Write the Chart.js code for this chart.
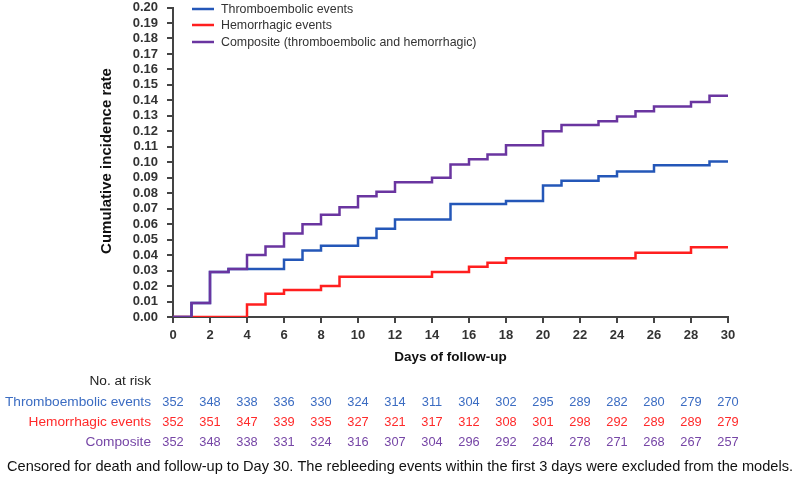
<!DOCTYPE html>
<html lang="en">
<head>
<meta charset="UTF-8">
<title>Cumulative incidence</title>
<script src="https://cdn.jsdelivr.net/npm/chart.js@4"></script>
<style>
  html, body { margin: 0; padding: 0; background: #fff; }
  #wrap { width: 800px; height: 488px; position: relative; }
</style>
</head>
<body>
<div id="wrap"><canvas id="canvas"></canvas></div>
<script>
// step curves: value holds from the given day onward
const thromboDays = [0, 1, 2, 3, 6, 7, 8, 10, 11, 12, 15, 18, 20, 21, 23, 24, 26, 29, 30];
const thromboRate = [0, 0.009, 0.029, 0.031, 0.037, 0.043, 0.046, 0.051, 0.057, 0.063, 0.073, 0.075, 0.085, 0.088, 0.091, 0.094, 0.098, 0.1005, 0.1005];

const hemoDays = [0, 4, 5, 6, 8, 9, 14, 16, 17, 18, 25, 28, 30];
const hemoRate = [0, 0.008, 0.015, 0.0175, 0.020, 0.026, 0.029, 0.0325, 0.035, 0.038, 0.0415, 0.045, 0.045];

const compDays = [0, 1, 2, 3, 4, 5, 6, 7, 8, 9, 10, 11, 12, 14, 15, 16, 17, 18, 20, 21, 23, 24, 25, 26, 28, 29, 30];
const compRate = [0, 0.009, 0.029, 0.031, 0.040, 0.0455, 0.054, 0.060, 0.066, 0.071, 0.078, 0.081, 0.087, 0.090, 0.0985, 0.102, 0.105, 0.111, 0.120, 0.124, 0.1265, 0.1295, 0.133, 0.136, 0.139, 0.143, 0.143];

// number at risk table
const riskDays = [0, 2, 4, 6, 8, 10, 12, 14, 16, 18, 20, 22, 24, 26, 28, 30];
const riskThrombo = [352, 348, 338, 336, 330, 324, 314, 311, 304, 302, 295, 289, 282, 280, 279, 270];
const riskHemo = [352, 351, 347, 339, 335, 327, 321, 317, 312, 308, 301, 298, 292, 289, 289, 279];
const riskComp = [352, 348, 338, 331, 324, 316, 307, 304, 296, 292, 284, 278, 271, 268, 267, 257];

const seriesNames = ['Thromboembolic events', 'Hemorrhagic events', 'Composite (thromboembolic and hemorrhagic)'];
const riskNames = ['Thromboembolic events', 'Hemorrhagic events', 'Composite'];

const lineColors = ['#2457b8', '#ff1f1f', '#6a35a0'];
const textColors = ['#3b6cc2', '#ff2a2a', '#7646a6'];

function toPoints(days, vals) {
    return days.map(function (d, i) { return { x: d, y: vals[i] }; });
}

const FONT = 'Arial, "Liberation Sans", sans-serif';

// legend, axis titles, at-risk table and footnote
const extras = {
    id: 'extras',
    afterDraw(chart) {
        const ctx = chart.ctx;
        const xs = chart.scales.x;
        const area = chart.chartArea;
        ctx.save();

        // legend inside plot
        ctx.font = '12.4px ' + FONT;
        ctx.textBaseline = 'middle';
        ctx.textAlign = 'left';
        [9, 25, 42].forEach(function (y, i) {
            ctx.strokeStyle = lineColors[i];
            ctx.lineWidth = 2.5;
            ctx.beginPath();
            ctx.moveTo(192, y);
            ctx.lineTo(214, y);
            ctx.stroke();
            ctx.fillStyle = '#333';
            ctx.fillText(seriesNames[i], 221, y + 1);
        });

        // y title
        ctx.fillStyle = '#111';
        ctx.font = 'bold 15px ' + FONT;
        ctx.save();
        ctx.translate(107, 161);
        ctx.rotate(-Math.PI / 2);
        ctx.textAlign = 'center';
        ctx.fillText('Cumulative incidence rate', 0, 0);
        ctx.restore();

        // x title
        ctx.font = 'bold 13.5px ' + FONT;
        ctx.textAlign = 'center';
        ctx.fillText('Days of follow-up', (area.left + area.right) / 2, 357);

        // at-risk table
        ctx.font = '13.7px ' + FONT;
        ctx.textAlign = 'right';
        ctx.fillStyle = '#222';
        ctx.fillText('No. at risk', 151, 381);
        const rows = [riskThrombo, riskHemo, riskComp];
        const rowY = [402, 422, 442];
        rows.forEach(function (row, r) {
            ctx.fillStyle = textColors[r];
            ctx.font = '13.7px ' + FONT;
            ctx.textAlign = 'right';
            ctx.fillText(riskNames[r], 151, rowY[r]);
            ctx.font = '12.8px ' + FONT;
            ctx.textAlign = 'center';
            row.forEach(function (n, i) {
                ctx.fillText(String(n), xs.getPixelForValue(riskDays[i]), rowY[r]);
            });
        });

        // footnote
        ctx.fillStyle = '#111';
        ctx.textAlign = 'center';
        ctx.font = '14.6px ' + FONT;
        ctx.fillText('Censored for death and follow-up to Day 30. The rebleeding events within the first 3 days were excluded from the models.', 400, 467);
        ctx.restore();
    }
};

let ctx = document.getElementById('canvas').getContext('2d');
let config = {
    type: 'line',
    data: {
        datasets: [{
            label: seriesNames[2],
            data: toPoints(compDays, compRate),
            borderColor: lineColors[2],
            order: 1
        }, {
            label: seriesNames[1],
            data: toPoints(hemoDays, hemoRate),
            borderColor: lineColors[1],
            order: 2
        }, {
            label: seriesNames[0],
            data: toPoints(thromboDays, thromboRate),
            borderColor: lineColors[0],
            order: 3
        }]
    },
    options: {
        responsive: false,
        animation: false,
        devicePixelRatio: 1,
        layout: { padding: { left: 0, right: 72, top: 7.5, bottom: 0 } },
        elements: {
            line: { stepped: 'before', borderWidth: 2.5, fill: false, tension: 0 },
            point: { radius: 0 }
        },
        plugins: { legend: { display: false }, tooltip: { enabled: false } },
        scales: {
            x: {
                type: 'linear',
                min: 0,
                max: 30,
                afterFit: function (s) { s.height = 171; },
                ticks: {
                    stepSize: 2,
                    autoSkip: false,
                    maxRotation: 0,
                    padding: 5,
                    color: '#333',
                    font: { size: 13, family: FONT, weight: 'bold' }
                },
                grid: { drawOnChartArea: false, tickLength: 6, color: '#444', lineWidth: 2 },
                border: { color: '#444', width: 2 }
            },
            y: {
                min: 0,
                max: 0.2,
                afterFit: function (s) { s.width = 173; s.paddingTop = 0; s.paddingBottom = 0; },
                ticks: {
                    stepSize: 0.01,
                    autoSkip: false,
                    padding: 9,
                    color: '#333',
                    font: { size: 13, family: FONT, weight: 'bold' },
                    callback: function (v) { return Number(v).toFixed(2); }
                },
                grid: { drawOnChartArea: false, tickLength: 6, color: '#444', lineWidth: 2 },
                border: { color: '#444', width: 2 }
            }
        }
    },
    plugins: [extras]
};

const canvas = document.getElementById('canvas');
canvas.width = 800;
canvas.height = 488;
let chart = new Chart(ctx, config);
</script>
</body>
</html>
